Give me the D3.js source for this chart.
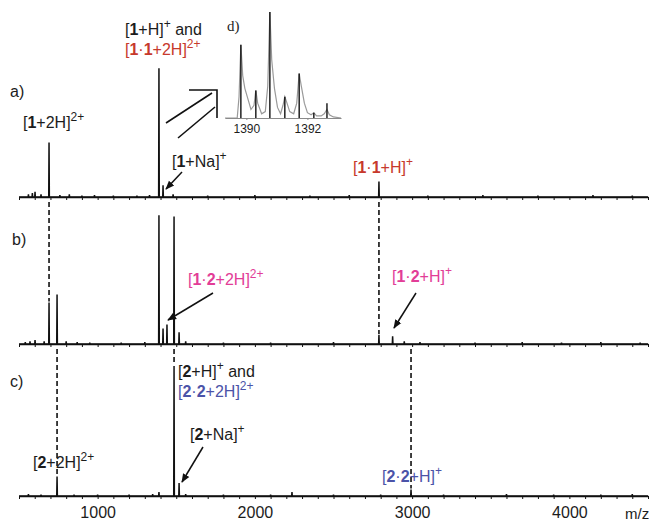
<!DOCTYPE html>
<html>
<head>
<meta charset="utf-8">
<script src="https://d3js.org/d3.v7.min.js"></script>
<style>
  body { margin: 0; background: #fff; }
  svg { display: block; }
</style>
</head>
<body>
<svg id="ms" width="649" height="521"></svg>
<script>
var svg = d3.select("#ms");

// peaks: [m/z, relative intensity %]
var peaksA = [[602, 4], [691, 42], [1390, 99], [1416, 9], [2789, 12]];
var peaksB = [[602, 3], [691, 32], [742, 38], [1390, 99], [1416, 12], [1441, 15], [1486, 98], [1518, 9], [2789, 7], [2876, 6]];
var peaksC = [[742, 15], [1390, 3], [1486, 100], [1518, 10], [2236, 3], [2993, 5]];

// small baseline bumps
var noiseA = [[560, 2], [585, 3], [640, 2], [760, 1.5], [820, 2], [900, 1], [980, 1.5], [1100, 1], [1250, 1], [1330, 1.5], [1480, 2], [1700, 1], [2000, 1.5], [2350, 1], [2600, 1.5], [3100, 1], [3450, 1.5], [3800, 1], [4150, 1.5], [4400, 1]];
var noiseB = [[540, 1.5], [570, 2], [660, 2], [800, 2], [870, 1.5], [950, 1], [1150, 1], [1300, 1.5], [1560, 2], [1800, 1], [2100, 1], [2500, 1.5], [2950, 2], [3050, 1.5], [3400, 1], [3700, 1.5], [3950, 1], [4200, 1.5], [4450, 1]];
var noiseC = [[560, 1.5], [640, 1], [850, 1], [1000, 1], [1200, 1], [1350, 1.5], [1560, 1.5], [1800, 1], [2100, 1], [2500, 1], [2800, 1], [3200, 1], [3600, 1.5], [3900, 1], [4200, 1], [4400, 1.5]];

// inset d): centroid sticks and profile trace
var insetSticks = [[1389.82, 69], [1390.31, 26], [1390.77, 100], [1391.26, 20], [1391.73, 42], [1392.21, 5], [1392.64, 14]];
var insetProfile = [[1389.3, 0], [1389.7, 0], [1389.76, 20], [1389.82, 69], [1389.88, 40], [1389.95, 28], [1390.05, 18], [1390.15, 8],
  [1390.25, 12], [1390.31, 26], [1390.37, 14], [1390.5, 4], [1390.62, 6], [1390.7, 30], [1390.77, 100], [1390.83, 55], [1390.92, 28],
  [1391.02, 10], [1391.12, 4], [1391.2, 12], [1391.26, 20], [1391.32, 15], [1391.42, 6], [1391.55, 4], [1391.65, 14], [1391.73, 42],
  [1391.8, 30], [1391.9, 14], [1392.0, 5], [1392.12, 3], [1392.21, 5], [1392.3, 2], [1392.45, 2], [1392.55, 4], [1392.64, 8],
  [1392.72, 3], [1392.85, 1], [1393.1, 0]];

var axisTicks = d3.range(500, 4501, 100);
var axisLabels = [1000, 2000, 3000, 4000];
var insetTicks = [1390, 1392];

var red = "#c7392c", pink = "#e23d97", blue = "#4b53a8", ink = "#1c1c1c";

var x = d3.scaleLinear().domain([500, 4500]).range([19, 648]);
var panels = {
  a: { y: d3.scaleLinear().domain([0, 100]).range([197, 67]), peaks: peaksA, noise: noiseA },
  b: { y: d3.scaleLinear().domain([0, 100]).range([344, 214]), peaks: peaksB, noise: noiseB },
  c: { y: d3.scaleLinear().domain([0, 100]).range([496, 366]), peaks: peaksC, noise: noiseC }
};

svg.append("defs").append("marker")
  .attr("id", "head")
  .attr("viewBox", "0 0 10 10")
  .attr("refX", 9).attr("refY", 5)
  .attr("markerWidth", 9).attr("markerHeight", 9)
  .attr("markerUnits", "userSpaceOnUse")
  .attr("orient", "auto")
  .append("path").attr("d", "M0,1 L10,5 L0,9 Z").attr("fill", "#111");

function drawPanel(key, showLabels) {
  var p = panels[key];
  var pts = [[500, 0]];
  p.peaks.concat(p.noise).sort(function(a, b) { return a[0] - b[0]; }).forEach(function(d) {
    pts.push([d[0] - 2, 0], [d[0], d[1]], [d[0] + 2, 0]);
  });
  pts.push([4500, 0]);
  var line = d3.line().x(function(d) { return x(d[0]); }).y(function(d) { return p.y(d[1]); });

  var axis = d3.axisBottom(x).tickValues(axisTicks).tickSize(3).tickSizeOuter(0).tickPadding(8)
    .tickFormat(function(d) { return showLabels && axisLabels.indexOf(d) >= 0 ? d : ""; });
  var g = svg.append("g").attr("transform", "translate(0," + p.y(0) + ")").call(axis);
  g.select(".domain").attr("stroke", "#111").attr("stroke-width", 1.3);
  g.selectAll(".tick line").attr("stroke", "#111");
  g.selectAll(".tick text").style("font-family", "Liberation Sans, Arial, sans-serif").style("font-size", "16px").attr("fill", ink);

  svg.append("path")
    .attr("d", line(pts))
    .attr("fill", "none")
    .attr("stroke", "#111")
    .attr("stroke-width", 1.5)
    .attr("stroke-linejoin", "miter");
}

function peakHeight(key, mz) {
  var hit = panels[key].peaks.filter(function(d) { return d[0] === mz; })[0];
  return hit ? hit[1] : 0;
}

// dashed guides from one spectrum down to the matching peak in the next
function connector(mz, from, to) {
  svg.append("line")
    .attr("x1", x(mz)).attr("x2", x(mz))
    .attr("y1", panels[from].y(0) + 5)
    .attr("y2", panels[to].y(peakHeight(to, mz)) - 1)
    .attr("stroke", "#111")
    .attr("stroke-width", 1.6)
    .attr("stroke-dasharray", "5,3");
}

function arrow(x1, y1, x2, y2) {
  svg.append("line")
    .attr("x1", x1).attr("y1", y1).attr("x2", x2).attr("y2", y2)
    .attr("stroke", "#111").attr("stroke-width", 1.5)
    .attr("marker-end", "url(#head)");
}

function label(lx, ly, parts, color) {
  var t = svg.append("text")
    .attr("x", lx).attr("y", ly)
    .style("font-family", "Liberation Sans, Arial, sans-serif")
    .style("font-size", "16px")
    .style("fill", color || ink);
  var up = 0;
  parts.forEach(function(p) {
    var s = t.append("tspan").text(p[0]);
    if (p[1] === "b") s.style("font-weight", "bold");
    if (p[1] === "s") {
      s.style("font-size", "12px").attr("dy", up ? 0 : -7);
      up = 7;
    } else if (up) {
      s.attr("dy", up);
      up = 0;
    }
  });
}

function drawInset() {
  var ix = d3.scaleLinear().domain([1389.3, 1393.1]).range([225, 341]);
  var iy = d3.scaleLinear().domain([0, 100]).range([118, 12]);
  var prof = d3.line().x(function(d) { return ix(d[0]); }).y(function(d) { return iy(d[1]); });

  svg.append("path")
    .attr("d", prof(insetProfile))
    .attr("fill", "none").attr("stroke", "#9a9a9a").attr("stroke-width", 1.2);
  svg.selectAll(".stick").data(insetSticks).enter().append("line")
    .attr("class", "stick")
    .attr("x1", function(d) { return ix(d[0]); }).attr("x2", function(d) { return ix(d[0]); })
    .attr("y1", iy(0)).attr("y2", function(d) { return iy(d[1]); })
    .attr("stroke", "#111").attr("stroke-width", 1.4);

  var ax = d3.axisBottom(ix).tickValues(insetTicks).tickSize(2).tickSizeOuter(0).tickPadding(4).tickFormat(d3.format("d"));
  var g = svg.append("g").attr("transform", "translate(0," + iy(0) + ")").call(ax);
  g.select(".domain").attr("stroke", "#8a8a8a").attr("stroke-width", 1.2);
  g.selectAll(".tick line").attr("stroke", "#8a8a8a");
  g.selectAll(".tick text").style("font-family", "Liberation Sans, Arial, sans-serif").style("font-size", "12px").attr("fill", ink);

  svg.append("text")
    .attr("x", 227).attr("y", 31)
    .style("font-family", "Liberation Serif, Times New Roman, serif")
    .style("font-size", "15px")
    .style("fill", ink)
    .text("d)");

  // double-shafted arrow pointing to the zoom
  svg.append("line").attr("x1", 166).attr("y1", 123).attr("x2", 212).attr("y2", 93)
    .attr("stroke", "#111").attr("stroke-width", 1.6);
  svg.append("line").attr("x1", 178).attr("y1", 138).attr("x2", 215).attr("y2", 107)
    .attr("stroke", "#111").attr("stroke-width", 1.6);
  svg.append("polyline").attr("points", "189,90 217,90 217,118")
    .attr("fill", "none").attr("stroke", "#111").attr("stroke-width", 1.6);
}

drawPanel("a", false);
drawPanel("b", false);
drawPanel("c", true);

connector(691, "a", "b");
connector(2789, "a", "b");
connector(742, "b", "c");
connector(1486, "b", "c");
connector(2993, "b", "c");

drawInset();

arrow(182, 172, 166, 189);
arrow(213, 293, 168, 320);
arrow(416, 293, 394, 328);
arrow(203, 447, 182, 482);

svg.append("text").attr("x", 625).attr("y", 519)
  .style("font-family", "Liberation Sans, Arial, sans-serif").style("font-size", "15px").style("fill", ink)
  .text("m/z");

label(10, 97, [["a)", ""]]);
label(12, 245, [["b)", ""]]);
label(10, 387, [["c)", ""]]);

label(125, 35, [["[", ""], ["1", "b"], ["+H]", ""], ["+", "s"], [" and", ""]]);
label(125, 55, [["[", ""], ["1", "b"], ["·", ""], ["1", "b"], ["+2H]", ""], ["2+", "s"]], red);
label(23, 128, [["[", ""], ["1", "b"], ["+2H]", ""], ["2+", "s"]]);
label(172, 167, [["[", ""], ["1", "b"], ["+Na]", ""], ["+", "s"]]);
label(353, 173, [["[", ""], ["1", "b"], ["·", ""], ["1", "b"], ["+H]", ""], ["+", "s"]], red);

label(188, 285, [["[", ""], ["1", "b"], ["·", ""], ["2", "b"], ["+2H]", ""], ["2+", "s"]], pink);
label(392, 282, [["[", ""], ["1", "b"], ["·", ""], ["2", "b"], ["+H]", ""], ["+", "s"]], pink);

label(178, 377, [["[", ""], ["2", "b"], ["+H]", ""], ["+", "s"], [" and", ""]]);
label(178, 397, [["[", ""], ["2", "b"], ["·", ""], ["2", "b"], ["+2H]", ""], ["2+", "s"]], blue);
label(190, 440, [["[", ""], ["2", "b"], ["+Na]", ""], ["+", "s"]]);
label(33, 468, [["[", ""], ["2", "b"], ["+2H]", ""], ["2+", "s"]]);
label(382, 482, [["[", ""], ["2", "b"], ["·", ""], ["2", "b"], ["+H]", ""], ["+", "s"]], blue);
</script>
</body>
</html>
